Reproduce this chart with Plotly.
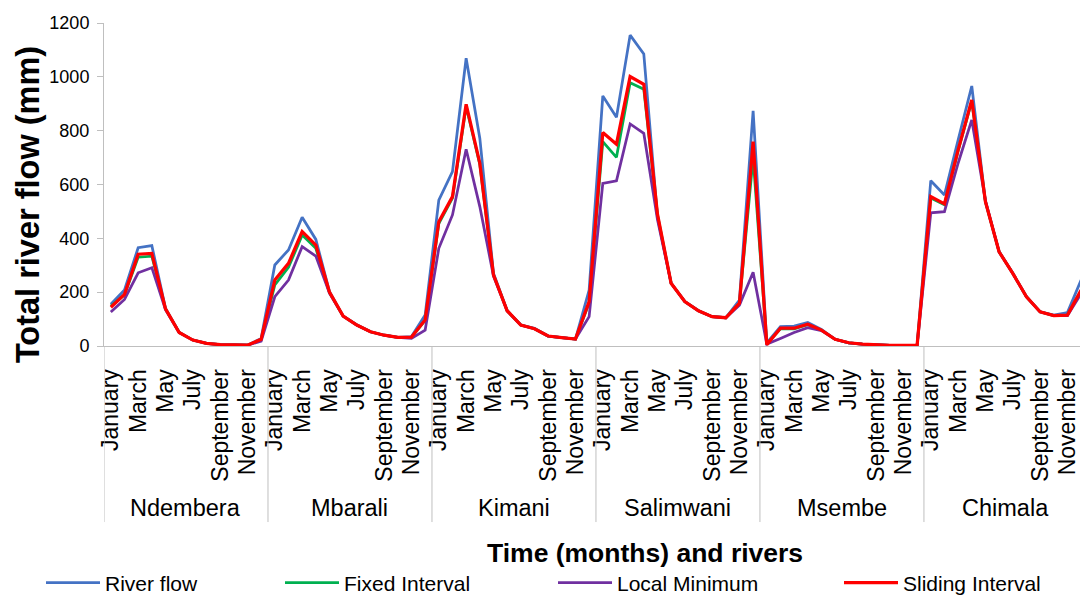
import plotly.graph_objects as go

months = ["January", "February", "March", "April", "May", "June",
          "July", "August", "September", "October", "November", "December"]
rivers = ["Ndembera", "Mbarali", "Kimani", "Salimwani", "Msembe", "Chimala"]

river_flow = [
    155, 208, 365, 373, 140, 50, 22, 10, 5, 3, 3, 28,
    301, 357, 478, 396, 202, 111, 78, 53, 40, 32, 35, 115,
    542, 648, 1069, 772, 270, 131, 78, 66, 37, 31, 26, 208,
    929, 850, 1155, 1085, 480, 233, 165, 131, 109, 105, 171, 874,
    12, 72, 74, 87, 62, 25, 12, 7, 4, 2, 2, 2,
    614, 561, 765, 966, 536, 350, 270, 183, 127, 115, 124, 245,
]
fixed_interval = [
    148, 190, 330, 334, 138, 50, 22, 10, 5, 3, 3, 24,
    227, 292, 412, 363, 198, 111, 78, 53, 40, 32, 33, 95,
    455, 550, 890, 675, 264, 131, 78, 64, 37, 31, 26, 160,
    759, 701, 978, 954, 488, 233, 165, 131, 109, 105, 159, 700,
    8, 64, 64, 79, 59, 25, 12, 7, 4, 2, 2, 2,
    550, 525, 725, 910, 536, 350, 270, 183, 127, 113, 115, 205,
]
local_minimum = [
    126, 173, 272, 291, 135, 50, 22, 10, 5, 3, 3, 18,
    183, 245, 369, 334, 196, 111, 78, 53, 40, 32, 28, 59,
    363, 487, 731, 518, 260, 131, 78, 64, 37, 31, 26, 109,
    604, 614, 825, 790, 470, 233, 165, 131, 109, 105, 152, 274,
    7, 28, 50, 68, 57, 25, 12, 7, 4, 2, 2, 2,
    495, 499, 679, 840, 540, 350, 270, 183, 127, 113, 113, 195,
]
sliding_interval = [
    144, 192, 341, 344, 138, 50, 22, 10, 5, 3, 3, 25,
    245, 307, 425, 375, 200, 111, 78, 53, 40, 32, 33, 97,
    462, 555, 898, 679, 264, 131, 78, 64, 37, 31, 26, 165,
    793, 750, 1001, 972, 490, 233, 165, 131, 109, 105, 159, 759,
    5, 66, 66, 81, 59, 25, 12, 7, 4, 2, 2, 2,
    555, 528, 728, 914, 536, 350, 270, 183, 127, 113, 115, 208,
]
y_ticks = [0, 200, 400, 600, 800, 1000, 1200]

FONT = "Liberation Sans, Arial, sans-serif"
n = len(months) * len(rivers)
xs = list(range(n))
hover = [f"{rivers[i // 12]} - {months[i % 12]}" for i in xs]

series = [
    ("River flow", river_flow, "#4472C4", 2.75, "legend"),
    ("Fixed Interval", fixed_interval, "#00B050", 2.75, "legend2"),
    ("Local Minimum", local_minimum, "#7030A0", 2.75, "legend3"),
    ("Sliding Interval", sliding_interval, "#FF0000", 3.25, "legend4"),
]

fig = go.Figure()
for name, vals, color, w, lg in series:
    fig.add_trace(go.Scatter(
        x=xs, y=vals, mode="lines", name=name, text=hover,
        line=dict(color=color, width=w), legend=lg,
    ))

tickvals = [i for i in xs if i % 2 == 0]
ticktext = [months[i % 12] for i in tickvals]

AX = "#BFBFBF"
fig.update_xaxes(
    range=[-0.5, 70.92], tickvals=tickvals, ticktext=ticktext, tickangle=-90,
    tickfont=dict(family=FONT, size=23, color="#000000"),
    showline=True, linecolor=AX, linewidth=1, showgrid=False, zeroline=False,
    ticks="", ticklabelstandoff=13, fixedrange=True, automargin=False,
)
fig.update_yaxes(
    range=[0, 1200], tickvals=y_ticks,
    tickfont=dict(family=FONT, size=18, color="#000000"),
    showline=True, linecolor=AX, linewidth=1, showgrid=False, zeroline=False,
    ticks="outside", ticklen=6, tickcolor=AX, ticklabelstandoff=4, automargin=False,
)

shapes = []
for k in range(len(rivers)):
    shapes.append(dict(type="line", xref="x", yref="paper",
                       x0=-0.5 + 12 * k, x1=-0.5 + 12 * k, y0=0, y1=-0.545,
                       line=dict(color=AX, width=1)))

annotations = []
for k, r in enumerate(rivers):
    annotations.append(dict(x=5.5 + 12 * k, xref="x", y=-0.502, yref="paper",
                            text=r, showarrow=False, yanchor="middle",
                            font=dict(family=FONT, size=23.5, color="#000000")))
annotations.append(dict(x=0.554, xref="paper", y=-0.64, yref="paper",
                        text="Time (months) and rivers", showarrow=False,
                        yanchor="middle",
                        font=dict(family=FONT, size=26.5, color="#000000", weight="bold")))
annotations.append(dict(x=-0.0778, xref="paper", y=0.4365, yref="paper",
                        text="Total river flow (mm)", showarrow=False, textangle=-90,
                        xanchor="center", yanchor="middle",
                        font=dict(family=FONT, size=32.5, color="#000000", weight="bold")))

legend_px = [41, 280, 553, 839]
leg_common = dict(orientation="h", yanchor="middle", xanchor="left",
                  xref="container", yref="container", y=1 - 583 / 596,
                  font=dict(family=FONT, size=21, color="#000000"),
                  bgcolor="rgba(0,0,0,0)", itemwidth=54)

fig.update_layout(
    width=1080, height=596,
    margin=dict(l=104, r=0, t=23, b=250, autoexpand=False),
    plot_bgcolor="#FFFFFF", paper_bgcolor="#FFFFFF",
    shapes=shapes, annotations=annotations,
    legend=dict(x=legend_px[0] / 1080, **leg_common),
    legend2=dict(x=legend_px[1] / 1080, **leg_common),
    legend3=dict(x=legend_px[2] / 1080, **leg_common),
    legend4=dict(x=legend_px[3] / 1080, **leg_common),
    showlegend=True,
)

fig.write_html("out.html")
